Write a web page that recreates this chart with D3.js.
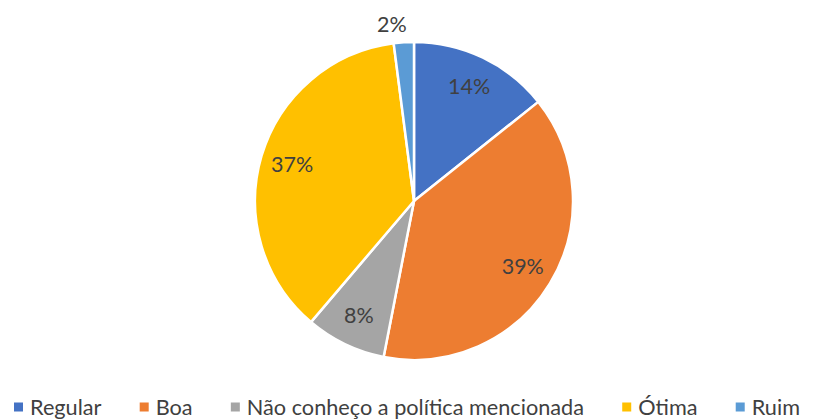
<!DOCTYPE html>
<html>
<head>
<meta charset="utf-8">
<script src="https://cdn.jsdelivr.net/npm/d3@7"></script>
<style>
  html, body { margin: 0; padding: 0; background: #fff; }
  svg { display: block; font-family: Lato, "Open Sans", sans-serif; }
</style>
</head>
<body>
<div id="chart"></div>
<script>
// dados do gráfico
const categories = ['Regular', 'Boa', 'Não conheço a política mencionada', 'Ótima', 'Ruim'];
const counts = [7, 19, 4, 18, 1];
const colors = ['#4472C4', '#ED7D31', '#A5A5A5', '#FFC000', '#5B9BD5'];

const W = 840, H = 419;
const cx = 414, cy = 201, r = 159;

const svg = d3.select('#chart').append('svg')
    .attr('width', W)
    .attr('height', H);

const total = d3.sum(counts);
const data = categories.map((c, i) => ({ name: c, value: counts[i], color: colors[i] }));

// pizza começa às 12h, sentido horário
const pie = d3.pie().value(d => d.value).sort(null);
const arcs = pie(data);
const arc = d3.arc().innerRadius(0).outerRadius(r);

const g = svg.append('g').attr('transform', `translate(${cx},${cy})`);

g.selectAll('path.slice')
    .data(arcs)
    .enter().append('path')
    .attr('class', 'slice')
    .attr('d', arc)
    .attr('fill', d => d.data.color)
    .attr('stroke', '#fff')
    .attr('stroke-width', 2.5)
    .attr('stroke-linejoin', 'round');

// rótulos: dentro da fatia, ou fora quando a fatia é pequena
const fmt = d => Math.round(d.value / total * 100) + '%';
const inner = d3.arc().innerRadius(r * 0.8).outerRadius(r * 0.8);
const outer = d3.arc().innerRadius(r + 18).outerRadius(r + 18);

g.selectAll('text.lbl')
    .data(arcs)
    .enter().append('text')
    .attr('class', 'lbl')
    .each(function(d) {
        const small = d.value / total < 0.05;
        const p = (small ? outer : inner).centroid(d);
        const t = d3.select(this);
        if (small) {
            t.attr('x', p[0] + 4).attr('text-anchor', 'end');
        } else {
            t.attr('x', p[0]).attr('text-anchor', 'middle');
        }
        t.attr('y', p[1]).attr('dy', '0.35em');
    })
    .attr('font-size', 21.5)
    .attr('fill', '#404040')
    .text(fmt);

// legenda na base
const legendY = 407;
const leftEdge = 14, rightEdge = 800;
const markerSize = 9, markerGap = 7;

const legend = svg.append('g').attr('class', 'legend');
const items = legend.selectAll('g')
    .data(data)
    .enter().append('g');

items.append('rect')
    .attr('width', markerSize)
    .attr('height', markerSize)
    .attr('y', legendY - markerSize / 2)
    .attr('fill', d => d.color);

items.append('text')
    .attr('x', markerSize + markerGap)
    .attr('y', legendY)
    .attr('dy', '0.35em')
    .attr('font-size', 21.7)
    .attr('fill', '#404040')
    .text(d => d.name);

// distribui os itens entre as bordas
const widths = [];
items.each(function() {
    widths.push(markerSize + markerGap + d3.select(this).select('text').node().getComputedTextLength());
});
const gap = (rightEdge - leftEdge - d3.sum(widths)) / (data.length - 1);
let xPos = leftEdge;
items.each(function(d, i) {
    d3.select(this).attr('transform', `translate(${xPos},0)`);
    xPos += widths[i] + gap;
});
</script>
</body>
</html>
